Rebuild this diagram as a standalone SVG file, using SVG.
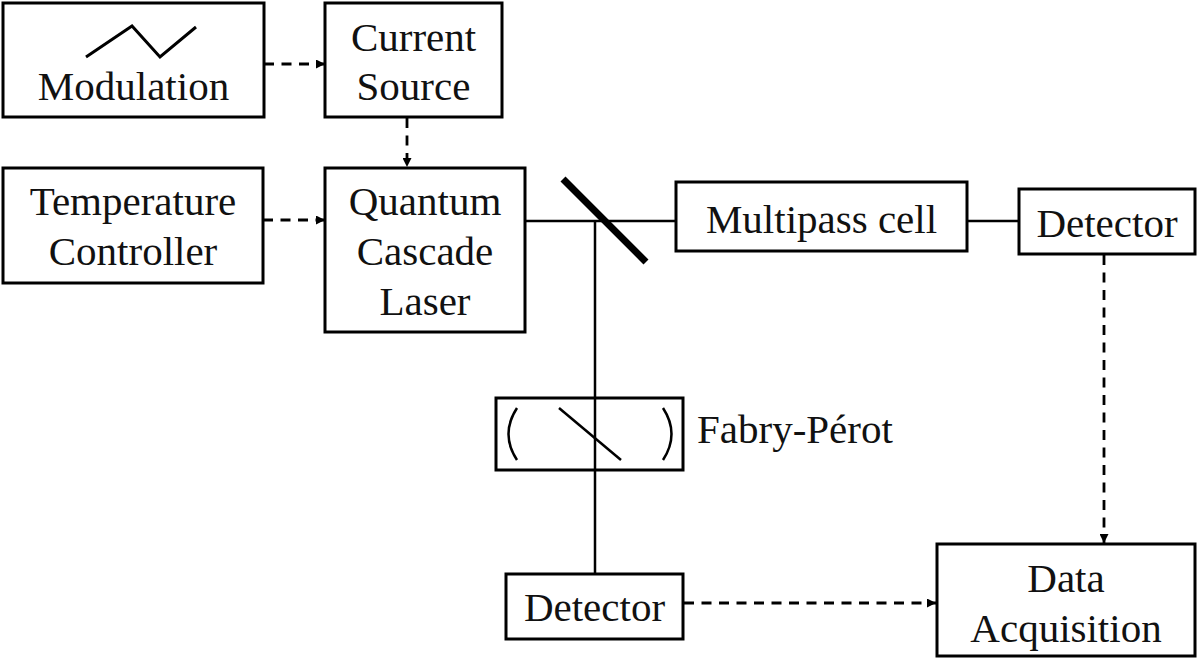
<svg xmlns="http://www.w3.org/2000/svg" width="1197" height="658" viewBox="0 0 1197 658">
<style>
.box{fill:#fff;stroke:#000;stroke-width:3}
.t{font-family:"Liberation Serif","Times New Roman",serif;font-size:41px;fill:#111;text-anchor:middle}
.beam{stroke:#000;stroke-width:2.5;fill:none}
.dash{stroke:#000;stroke-width:2.8;fill:none;stroke-dasharray:10 7.5;marker-end:url(#ah)}
</style>
<defs>
<marker id="ah" viewBox="0 0 10 10" refX="10" refY="5" markerWidth="10" markerHeight="9" markerUnits="userSpaceOnUse" orient="auto">
<path d="M0,0 L10,5 L0,10 z" fill="#000"/>
</marker>
</defs>
<rect width="1197" height="658" fill="#fff"/>
<g id="connectors">
<path class="dash" d="M264,64 H325"/>
<path class="dash" d="M263,220 H325"/>
<path class="dash" d="M407,118 V167"/>
<path class="dash" d="M1104,255 V543"/>
<path class="dash" d="M684,603 H936"/>
<path class="beam" d="M525,221 H676"/>
<path class="beam" d="M967,221 H1019"/>
<path class="beam" d="M595,221 V574"/>
</g>
<g id="modulation">
<rect class="box" x="3" y="3" width="261" height="114"/>
<polyline points="86,57 132,26 160,57 196,27" fill="none" stroke="#000" stroke-width="3"/>
<text class="t" x="133.5" y="100">Modulation</text>
</g>
<g id="current-source">
<rect class="box" x="325" y="3" width="177" height="114"/>
<text class="t" x="413.5" y="51">Current</text>
<text class="t" x="413.5" y="100">Source</text>
</g>
<g id="temperature-controller">
<rect class="box" x="3" y="168" width="260" height="115"/>
<text class="t" x="133" y="215">Temperature</text>
<text class="t" x="133" y="265">Controller</text>
</g>
<g id="qcl">
<rect class="box" x="325" y="168" width="200" height="164"/>
<text class="t" x="425" y="215">Quantum</text>
<text class="t" x="425" y="265">Cascade</text>
<text class="t" x="425" y="315">Laser</text>
</g>
<g id="beam-splitter">
<line x1="563" y1="179" x2="646" y2="262" stroke="#000" stroke-width="7"/>
</g>
<g id="multipass-cell">
<rect class="box" x="676" y="182" width="291" height="69"/>
<text class="t" x="821.5" y="233">Multipass cell</text>
</g>
<g id="detector-1">
<rect class="box" x="1019" y="189" width="176" height="65"/>
<text class="t" x="1107" y="237">Detector</text>
</g>
<g id="fabry-perot">
<rect class="box" x="496" y="398" width="187" height="72" fill="none"/>
<path d="M517,408 Q500,434 517,460" fill="none" stroke="#000" stroke-width="2.5"/>
<path d="M663,408 Q680,434 663,460" fill="none" stroke="#000" stroke-width="2.5"/>
<line x1="559" y1="408" x2="621" y2="460" stroke="#000" stroke-width="2.5"/>
<line x1="595" y1="398" x2="595" y2="470" stroke="#000" stroke-width="2.5"/>
<text class="t" x="697" y="443" style="text-anchor:start">Fabry-Pérot</text>
</g>
<g id="detector-2">
<rect class="box" x="506" y="574" width="177" height="65"/>
<text class="t" x="594.5" y="621">Detector</text>
</g>
<g id="data-acquisition">
<rect class="box" x="937" y="544" width="258" height="112"/>
<text class="t" x="1066" y="592">Data</text>
<text class="t" x="1066" y="642">Acquisition</text>
</g>
</svg>
